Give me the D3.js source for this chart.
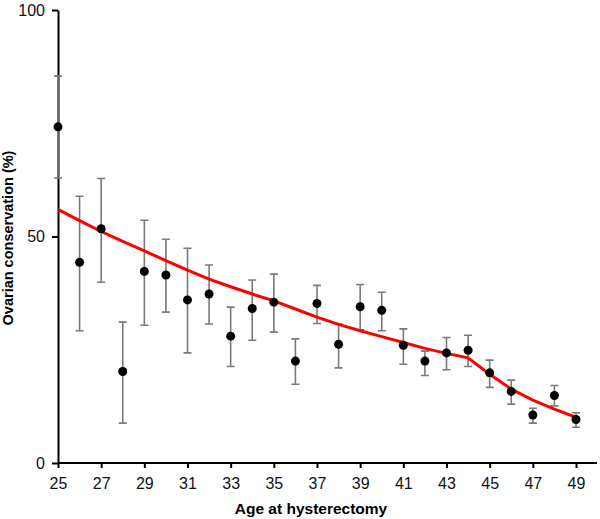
<!DOCTYPE html>
<html><head><meta charset="utf-8">
<script src="https://cdn.jsdelivr.net/npm/d3@7"></script>
<style>body{margin:0;background:#fff}svg{display:block}text{font-family:"Liberation Sans",Arial,sans-serif}</style>
</head><body>
<svg id="c" width="600" height="519"></svg>
<script>
const ages = [25,26,27,28,29,30,31,32,33,34,35,36,37,38,39,40,41,42,43,44,45,46,47,48,49];
const means = [74.2,44.3,51.7,20.2,42.3,41.5,36.0,37.3,28.0,34.1,35.5,22.5,35.2,26.2,34.5,33.7,26.0,22.5,24.3,24.9,19.9,15.8,10.6,14.9,9.6];
const upper = [85.4,58.9,62.8,31.1,53.6,49.4,47.4,43.7,34.4,40.4,41.7,27.4,39.2,30.7,39.4,37.7,29.6,24.7,27.7,28.2,22.7,18.3,12.1,17.1,11.1];
const lower = [62.9,29.2,39.9,8.8,30.4,33.3,24.3,30.7,21.3,27.1,28.9,17.4,30.8,21.0,29.4,29.2,21.8,19.3,20.6,21.3,16.7,13.0,8.8,12.6,7.9];
const fit = [56.0,53.5,51.1,48.9,46.8,44.7,42.6,40.6,38.9,37.3,35.8,34.0,32.2,30.6,29.2,27.9,26.6,25.3,24.2,23.2,19.6,16.3,13.9,11.9,10.1];
const xTicks = [25,27,29,31,33,35,37,39,41,43,45,47,49];
const yTicks = [0,50,100];

const svg = d3.select("#c");
const x = d3.scaleLinear().domain([25,49]).range([58,576]);
const y = d3.scaleLinear().domain([0,100]).range([463,10]);

// axes
const xa = svg.append("g").attr("transform","translate(0,463)")
  .call(d3.axisBottom(x).tickValues(xTicks).tickFormat(d3.format("d")).tickSize(5).tickSizeOuter(0));
xa.select(".domain").attr("d","M58,0H597");
const ya = svg.append("g").attr("transform","translate(58,0)")
  .call(d3.axisLeft(y).tickValues(yTicks).tickSize(6).tickSizeOuter(0));
[xa,ya].forEach(a=>{
  a.selectAll(".domain,line").attr("stroke","#000").attr("stroke-width",2);
  a.selectAll("text").attr("font-size",16).attr("fill","#111").attr("font-family","Liberation Sans, Arial, sans-serif");
});
xa.selectAll("text").attr("dy","0.71em").attr("y",15);
ya.selectAll("text").attr("x",-13);

// error bars
const data = ages.map((a,i)=>({a,m:means[i],u:upper[i],l:lower[i]}));
const eb = svg.append("g").attr("stroke","#7a7a7a").attr("stroke-width",1.6).attr("fill","none");
eb.selectAll("path").data(data).join("path")
  .attr("d",d=>{const cx=x(d.a),w=4;return `M${cx},${y(d.u)}V${y(d.l)}M${cx-w},${y(d.u)}H${cx+w}M${cx-w},${y(d.l)}H${cx+w}`;});

// fit line
svg.append("path").datum(ages.map((a,i)=>[a,fit[i]]))
  .attr("fill","none").attr("stroke","#ff0000").attr("stroke-width",3)
  .attr("d",d3.line().x(d=>x(d[0])).y(d=>y(d[1])));

// points
svg.append("g").selectAll("circle").data(data).join("circle")
  .attr("cx",d=>x(d.a)).attr("cy",d=>y(d.m)).attr("r",4.5).attr("fill","#000");

// titles
svg.append("text").attr("x",311).attr("y",513.5).attr("text-anchor","middle")
  .attr("font-size",15.5).attr("font-weight","bold").text("Age at hysterectomy");
svg.append("text").attr("transform","translate(13,238) rotate(-90)").attr("text-anchor","middle")
  .attr("font-size",14.5).attr("font-weight","bold").text("Ovarian conservation (%)");
</script>
</body></html>
